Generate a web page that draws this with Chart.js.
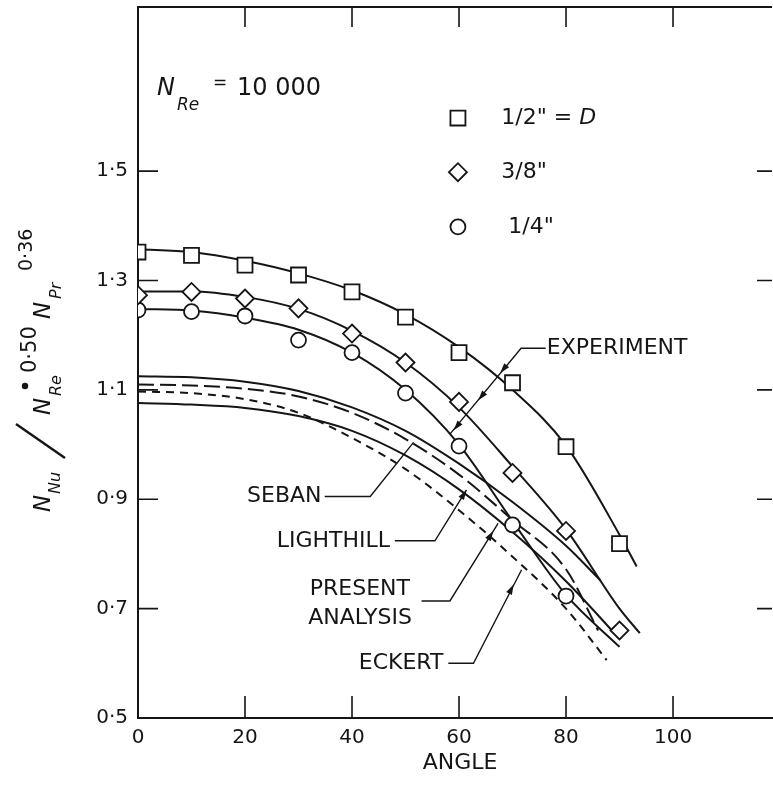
<!DOCTYPE html>
<html>
<head>
<meta charset="utf-8">
<script src="https://cdn.jsdelivr.net/npm/chart.js@4.4.1/dist/chart.umd.min.js"></script>
<style>
  html, body { margin: 0; padding: 0; background: #fff; }
  canvas { display: block; }
</style>
</head>
<body>
<canvas id="chart" width="773" height="787"></canvas>
<script>
const angles = [0, 10, 20, 30, 40, 50, 60, 70, 80, 90];
const halfInch = [1.352, 1.346, 1.328, 1.310, 1.279, 1.233, 1.168, 1.113, 0.996, 0.819];
const threeEighthInch = [1.273, 1.279, 1.267, 1.249, 1.203, 1.150, 1.078, 0.948, 0.842, 0.660];
const quarterAngles = [0, 10, 20, 30, 40, 50, 60, 70, 80];
const quarterInch = [1.246, 1.243, 1.235, 1.191, 1.168, 1.094, 0.997, 0.853, 0.723];

// --- faired experiment curves ---
const fitHalfX = [0, 10, 20, 30, 40, 50, 60, 70, 80, 90, 93.2];
const fitHalfY = [1.357, 1.352, 1.336, 1.313, 1.282, 1.238, 1.178, 1.100, 0.998, 0.835, 0.777];
const fitThreeEighthX = [0, 10, 20, 30, 40, 50, 60, 70, 80, 90, 93.8];
const fitThreeEighthY = [1.280, 1.280, 1.270, 1.248, 1.208, 1.150, 1.068, 0.960, 0.845, 0.700, 0.655];
const fitQuarterX = [0, 10, 20, 30, 40, 50, 60, 70, 80, 90];
const fitQuarterY = [1.248, 1.245, 1.232, 1.210, 1.168, 1.100, 1.000, 0.860, 0.725, 0.630];

// --- theory curves ---
const sebanX = [0, 10, 20, 30, 40, 50, 60, 70, 80, 86.4];
const sebanY = [1.125, 1.123, 1.115, 1.098, 1.068, 1.025, 0.965, 0.895, 0.815, 0.752];
const lighthillX = [0, 10, 20, 30, 40, 50, 60, 70, 80, 86];
const lighthillY = [1.110, 1.108, 1.102, 1.088, 1.058, 1.010, 0.945, 0.862, 0.772, 0.660];
const presentX = [0, 10, 20, 30, 40, 50, 60, 70, 80, 90];
const presentY = [1.076, 1.073, 1.067, 1.052, 1.025, 0.980, 0.918, 0.840, 0.750, 0.645];
const eckertX = [0, 10, 20, 30, 40, 50, 60, 70, 80, 87.6];
const eckertY = [1.097, 1.094, 1.083, 1.058, 1.012, 0.955, 0.880, 0.795, 0.700, 0.606];

// --- axes ---
const xTicks = [0, 20, 40, 60, 80, 100];
const xTickLabels = ['0', '20', '40', '60', '80', '100'];
const yTicks = [0.5, 0.7, 0.9, 1.1, 1.3, 1.5];
const yTickLabels = ['0·5', '0·7', '0·9', '1·1', '1·3', '1·5'];

// --- callouts (data coordinates) ---
const callouts = [
  { text: 'EXPERIMENT', x: 76.4, y: 1.176, align: 'left',
    path: [[76.2, 1.176], [71.6, 1.176], [58.3, 1.019]],
    arrows: [[67.7, 1.131], [63.6, 1.081], [59.0, 1.026]] },
  { text: 'SEBAN', x: 34.3, y: 0.905, align: 'right',
    path: [[34.9, 0.905], [43.4, 0.905], [51.5, 1.004]], arrows: [] },
  { text: 'LIGHTHILL', x: 47.1, y: 0.824, align: 'right',
    path: [[48.0, 0.824], [55.5, 0.824], [61.4, 0.917]], arrows: [[61.4, 0.917]] },
  { text: 'PRESENT', x: 32.1, y: 0.735, align: 'left',
    path: [[53.0, 0.714], [58.3, 0.714], [67.3, 0.856]], arrows: [[66.4, 0.842]] },
  { text: 'ANALYSIS', x: 31.8, y: 0.682, align: 'left', path: [], arrows: [] },
  { text: 'ECKERT', x: 57.1, y: 0.600, align: 'right',
    path: [[58.0, 0.600], [62.7, 0.600], [71.7, 0.771]], arrows: [[70.2, 0.744]] }
];

const INK = '#151515';
const FONT = '"DejaVu Sans", "Liberation Sans", sans-serif';

function pts(xs, ys) { return xs.map((v, i) => ({ x: v, y: ys[i] })); }

function markerSet(label, xs, ys, style, r) {
  return {
    label: label, data: pts(xs, ys), showLine: false, order: 0,
    pointStyle: style, pointRadius: r, pointBorderWidth: 1.8,
    pointBackgroundColor: '#fff', pointBorderColor: INK
  };
}

function curve(label, xs, ys, dash) {
  return {
    label: label, data: pts(xs, ys), order: 1,
    borderColor: INK, borderWidth: 2, borderDash: dash || [],
    pointRadius: 0, cubicInterpolationMode: 'monotone', fill: false
  };
}

function arrowHead(ctx, tx, ty, fx, fy) {
  const ang = Math.atan2(ty - fy, tx - fx), L = 10, W = 3.2;
  ctx.beginPath();
  ctx.moveTo(tx, ty);
  ctx.lineTo(tx - L * Math.cos(ang) + W * Math.sin(ang), ty - L * Math.sin(ang) - W * Math.cos(ang));
  ctx.lineTo(tx - L * Math.cos(ang) - W * Math.sin(ang), ty - L * Math.sin(ang) + W * Math.cos(ang));
  ctx.closePath();
  ctx.fill();
}

const figureDecor = {
  id: 'figureDecor',
  afterDatasetsDraw(chart) {
    const { ctx, chartArea: a, scales: { x, y } } = chart;
    const px = v => x.getPixelForValue(v), py = v => y.getPixelForValue(v);
    ctx.save();
    ctx.strokeStyle = INK; ctx.fillStyle = INK;

    // top frame and inward ticks
    ctx.lineWidth = 2;
    ctx.beginPath();
    ctx.moveTo(a.left - 1, a.top); ctx.lineTo(a.right, a.top);
    ctx.stroke();
    ctx.lineWidth = 1.6;
    ctx.beginPath();
    xTicks.slice(1).forEach(v => {
      ctx.moveTo(px(v), a.bottom); ctx.lineTo(px(v), a.bottom - 22);
      ctx.moveTo(px(v), a.top); ctx.lineTo(px(v), a.top + 20);
    });
    yTicks.slice(1).forEach(v => {
      ctx.moveTo(a.left, py(v)); ctx.lineTo(a.left + 20, py(v));
      ctx.moveTo(a.right - 15, py(v)); ctx.lineTo(a.right, py(v));
    });
    ctx.stroke();

    // callouts
    ctx.font = '22px ' + FONT;
    ctx.textBaseline = 'middle';
    callouts.forEach(c => {
      ctx.textAlign = c.align;
      ctx.fillText(c.text, px(c.x), py(c.y));
      if (c.path.length) {
        ctx.lineWidth = 1.4;
        ctx.beginPath();
        c.path.forEach((p, i) => i ? ctx.lineTo(px(p[0]), py(p[1])) : ctx.moveTo(px(p[0]), py(p[1])));
        ctx.stroke();
        const from = c.path[c.path.length - 2];
        c.arrows.forEach(t => arrowHead(ctx, px(t[0]), py(t[1]), px(from[0]), py(from[1])));
      }
    });

    // N_Re = 10 000
    ctx.textAlign = 'left';
    ctx.textBaseline = 'alphabetic';
    ctx.font = 'italic 24px ' + FONT;
    ctx.fillText('N', px(3.55), py(1.639));
    ctx.font = 'italic 17px ' + FONT;
    ctx.fillText('Re', px(7.3), py(1.611));
    ctx.font = '17px ' + FONT;
    ctx.fillText('=', px(14.0), py(1.652));
    ctx.font = '24px ' + FONT;
    ctx.fillText('10 000', px(18.5), py(1.639));

    // key
    const keyStyles = ['rect', 'rectRot', 'circle'];
    const keyRadius = [10.6, 9, 7.5];
    const keyY = [1.597, 1.498, 1.398];
    const keyTextX = [67.9, 67.9, 69.2];
    ctx.lineWidth = 1.8;
    keyStyles.forEach((s, i) => {
      ctx.fillStyle = '#fff';
      Chart.helpers.drawPoint(ctx, { pointStyle: s, radius: keyRadius[i], borderWidth: 1.8, rotation: 0 }, px(59.8), py(keyY[i]));
    });
    ctx.fillStyle = INK;
    ctx.textBaseline = 'middle';
    ctx.font = '22px ' + FONT;
    ctx.fillText('1/2" = ', px(keyTextX[0]), py(keyY[0]));
    const w = ctx.measureText('1/2" = ').width;
    ctx.font = 'italic 22px ' + FONT;
    ctx.fillText('D', px(keyTextX[0]) + w, py(keyY[0]));
    ctx.font = '22px ' + FONT;
    ctx.fillText('3/8"', px(keyTextX[1]), py(keyY[1]));
    ctx.fillText('1/4"', px(keyTextX[2]), py(keyY[2]));

    // x title
    ctx.textAlign = 'center';
    ctx.font = '22px ' + FONT;
    ctx.fillText('ANGLE', px(60.2), a.bottom + 45);

    // y title, rotated: N_Nu / N_Re*^0.50 N_Pr^0.36
    ctx.translate(a.left - 88, a.bottom - 206);
    ctx.rotate(-Math.PI / 2);
    ctx.textAlign = 'left';
    ctx.textBaseline = 'alphabetic';
    const seg = (t, sx, sy, f) => { ctx.font = f; ctx.fillText(t, sx, sy); };
    const MAIN = 'italic 23px ' + FONT, SUB = 'italic 16px ' + FONT;
    seg('N', 0, 0, MAIN);
    seg('Nu', 18, 10, SUB);
    ctx.lineWidth = 2.4;
    ctx.beginPath(); ctx.moveTo(54, 15); ctx.lineTo(88, -34); ctx.stroke();
    seg('N', 97, 0, MAIN);
    seg('Re', 116, 11, SUB);
    ctx.beginPath(); ctx.arc(126, -25, 3.2, 0, Math.PI * 2); ctx.fill();
    seg('0·50', 139, -14, '21px ' + FONT);
    seg('N', 193, 0, MAIN);
    seg('Pr', 213, 11, SUB);
    seg('0·36', 241, -18, '19px ' + FONT);
    ctx.restore();
  }
};

new Chart(document.getElementById('chart'), {
  type: 'line',
  data: {
    datasets: [
      markerSet('1/2"', angles, halfInch, 'rect', 10.6),
      markerSet('3/8"', angles, threeEighthInch, 'rectRot', 9),
      markerSet('1/4"', quarterAngles, quarterInch, 'circle', 7.5),
      curve('fit 1/2"', fitHalfX, fitHalfY),
      curve('fit 3/8"', fitThreeEighthX, fitThreeEighthY),
      curve('fit 1/4"', fitQuarterX, fitQuarterY),
      curve('Seban', sebanX, sebanY),
      curve('Lighthill', lighthillX, lighthillY, [16, 6]),
      curve('Present analysis', presentX, presentY),
      curve('Eckert', eckertX, eckertY, [8, 6])
    ]
  },
  options: {
    responsive: false,
    animation: false,
    devicePixelRatio: 1,
    layout: { autoPadding: false, padding: { left: 0, right: 1, top: 7, bottom: 0 } },
    plugins: { legend: { display: false }, tooltip: { enabled: false } },
    scales: {
      x: {
        type: 'linear', min: 0, max: 118.5,
        grid: { display: false, drawTicks: false },
        border: { display: true, color: INK, width: 2 },
        afterBuildTicks: s => { s.ticks = xTicks.map(v => ({ value: v })); },
        afterFit: s => { s.height = 69; s.paddingLeft = 0; s.paddingRight = 0; },
        ticks: {
          padding: 8, color: INK, maxRotation: 0,
          font: { family: FONT, size: 20 },
          callback: v => xTickLabels[xTicks.indexOf(v)]
        }
      },
      y: {
        type: 'linear', min: 0.5, max: 1.8,
        grid: { display: false, drawTicks: false },
        border: { display: true, color: INK, width: 2 },
        afterBuildTicks: s => { s.ticks = yTicks.map(v => ({ value: v })); },
        afterFit: s => { s.width = 138; s.paddingTop = 0; s.paddingBottom = 0; },
        ticks: {
          padding: 10, color: INK,
          font: { family: FONT, size: 20 },
          callback: v => yTickLabels[yTicks.findIndex(t => Math.abs(t - v) < 1e-6)]
        }
      }
    }
  },
  plugins: [figureDecor]
});
</script>
</body>
</html>
